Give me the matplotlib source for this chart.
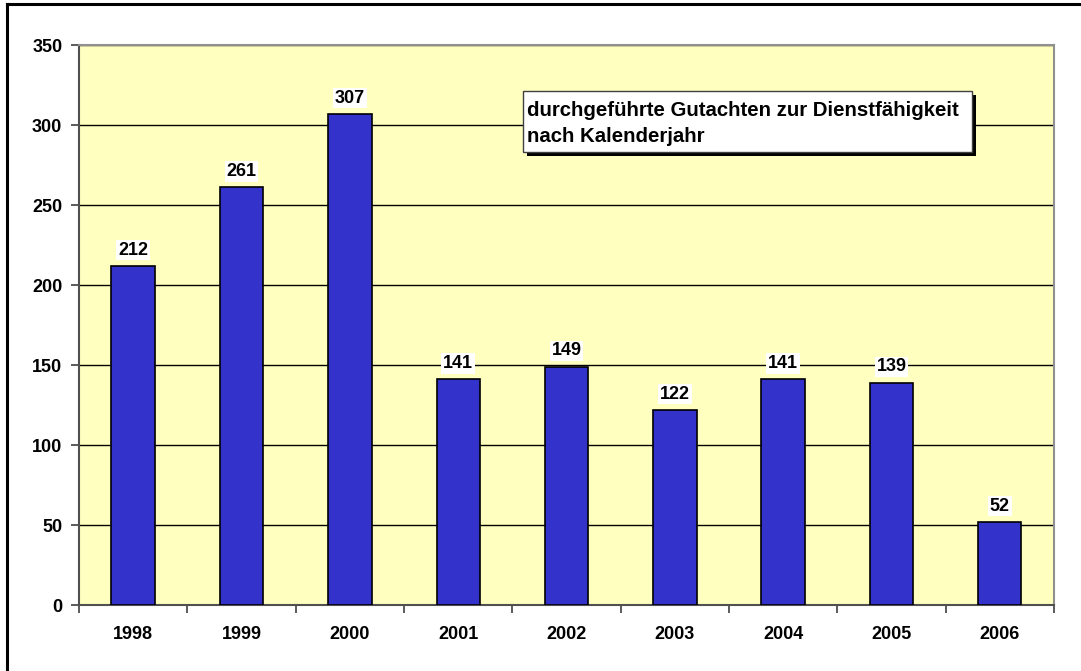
import matplotlib
matplotlib.use("Agg")
import matplotlib.pyplot as plt
from matplotlib.patches import Rectangle
from matplotlib.lines import Line2D

years = ["1998", "1999", "2000", "2001", "2002", "2003", "2004", "2005", "2006"]
values = [212, 261, 307, 141, 149, 122, 141, 139, 52]
y_ticks = [0, 50, 100, 150, 200, 250, 300, 350]
title_lines = ["durchgeführte Gutachten zur Dienstfähigkeit", "nach Kalenderjahr"]

W, H = 1081, 671
plt.rcParams['font.family'] = ['Liberation Sans', 'DejaVu Sans']
fig = plt.figure(figsize=(W / 100, H / 100), dpi=100)
fig.patch.set_facecolor('white')

L, R, T, B = 79, 1054, 45, 605
ax = fig.add_axes([L / W, 1 - B / H, (R - L) / W, (B - T) / H])
ax.set_facecolor('#FFFFC0')

x = list(range(len(years)))
ax.bar(x, values, width=0.4, color='#3333CC', edgecolor='black', linewidth=1.2, zorder=3)

ax.set_xlim(-0.5, len(years) - 0.5)
ax.set_ylim(0, 350)
ax.set_yticks(y_ticks)
ax.set_yticklabels([str(v) for v in y_ticks], fontsize=13, fontweight='bold')
ax.yaxis.grid(True, color='black', linewidth=1.0, zorder=1)
ax.set_axisbelow(True)

ax.set_xticks(x)
ax.set_xticklabels(years, fontsize=13, fontweight='bold')
ax.set_xticks([i - 0.5 for i in range(len(years) + 1)], minor=True)
ax.tick_params(axis='x', which='major', length=0, pad=15)
ax.tick_params(axis='x', which='minor', length=6, width=1.2, color='#404040', direction='out')
ax.tick_params(axis='y', which='major', length=6, width=1.2, color='#404040', direction='out', pad=6)

for s in ['top', 'right']:
    ax.spines[s].set_color('#909090')
    ax.spines[s].set_linewidth(1.5)
for s in ['left', 'bottom']:
    ax.spines[s].set_color('#505050')
    ax.spines[s].set_linewidth(1.5)

for xi, v in zip(x, values):
    ax.annotate(str(v), (xi, v), xytext=(0, 8), textcoords='offset points',
                ha='center', va='baseline', fontsize=13, fontweight='bold', zorder=5,
                bbox=dict(boxstyle='square,pad=0.1', facecolor='white', edgecolor='none'))

# title box with shadow (figure pixel coords)
bx0, by0, bx1, by1 = 522.5, 91, 971.5, 151.5
def fr(x0, y0, w, h):
    return (x0 / W, 1 - (y0 + h) / H), w / W, h / H
xy, w, h = fr(bx0 + 4, by0 + 4, bx1 - bx0, by1 - by0)
fig.patches.append(Rectangle(xy, w, h, transform=fig.transFigure, facecolor='black',
                             edgecolor='none', zorder=10))
xy, w, h = fr(bx0, by0, bx1 - bx0, by1 - by0)
fig.patches.append(Rectangle(xy, w, h, transform=fig.transFigure, facecolor='white',
                             edgecolor='#404040', linewidth=1.0, zorder=11))
fig.text(527 / W, 1 - 116 / H, title_lines[0], fontsize=14.7, fontweight='bold',
         ha='left', va='baseline', zorder=12)
fig.text(527 / W, 1 - 142 / H, title_lines[1], fontsize=14.7, fontweight='bold',
         ha='left', va='baseline', zorder=12)

# outer frame (left and top edges)
fig.lines.append(Line2D([6.5 / W, 6.5 / W], [0, 1 - 3.5 / H], transform=fig.transFigure,
                        color='black', linewidth=2.2))
fig.lines.append(Line2D([6.5 / W, 1], [1 - 3.5 / H, 1 - 3.5 / H], transform=fig.transFigure,
                        color='black', linewidth=2.2))

fig.savefig('out.png', dpi=100)
